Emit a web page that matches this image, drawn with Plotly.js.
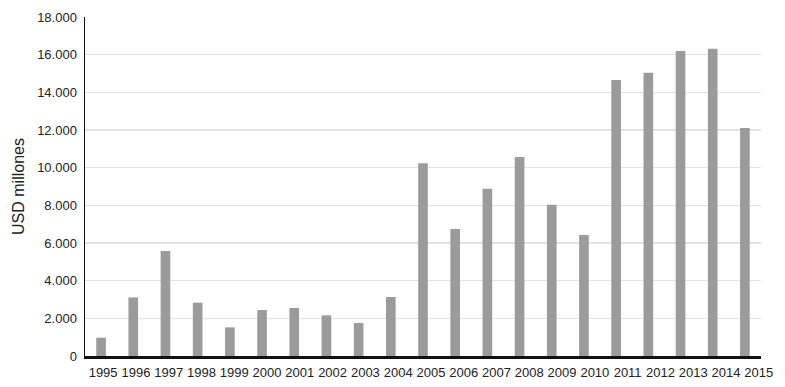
<!DOCTYPE html>
<html>
<head>
<meta charset="utf-8">
<script src="https://cdn.plot.ly/plotly-3.0.1.min.js"></script>
<style>html,body{margin:0;padding:0;background:#fff;}#chart{width:785px;height:387px;}</style>
</head>
<body>
<div id="chart"></div>
<script>
var years = ["1995","1996","1997","1998","1999","2000","2001","2002","2003","2004","2005","2006","2007","2008","2009","2010","2011","2012","2013","2014","2015"];
var values = [970, 3110, 5570, 2830, 1520, 2440, 2550, 2160, 1750, 3130, 10230, 6750, 8880, 10570, 8030, 6430, 14650, 15040, 16200, 16320, 12110];
var yTickVals = [0, 2000, 4000, 6000, 8000, 10000, 12000, 14000, 16000, 18000];
var yTickText = ["0", "2.000", "4.000", "6.000", "8.000", "10.000", "12.000", "14.000", "16.000", "18.000"];
var yTitle = "USD millones";

var font = "Liberation Sans, Arial, sans-serif";
// label positions are spread slightly wider than bar spacing in the reference
var labelPos = years.map(function(_, i){ return 0.0625 + i * 1.0184; });

var trace = {
  type: "bar",
  x: years.map(function(_, i){ return i; }),
  y: values,
  marker: {color: "#9b9b9b"},
  width: 0.3,
  hoverinfo: "skip"
};
var labelTrace = {
  type: "scatter", mode: "markers",
  x: [labelPos[0]], y: [0], xaxis: "x2",
  marker: {opacity: 0}, hoverinfo: "skip", showlegend: false
};

var layout = {
  width: 785, height: 387,
  margin: {l: 85, r: 24, t: 17, b: 31},
  paper_bgcolor: "#fff", plot_bgcolor: "#fff",
  showlegend: false,
  bargap: 0.7,
  font: {family: font, size: 13, color: "#222"},
  xaxis: {
    range: [-0.5, 20.5],
    showticklabels: false,
    showgrid: false, zeroline: false,
    showline: false, ticks: "", fixedrange: true
  },
  xaxis2: {
    overlaying: "x", anchor: "y",
    range: [-0.5, 20.5],
    tickmode: "array", tickvals: labelPos, ticktext: years,
    showgrid: false, zeroline: false, showline: true, linecolor: "#111", linewidth: 2.5,
    ticks: "outside", ticklen: 3, tickcolor: "rgba(0,0,0,0)",
    tickfont: {family: font, size: 13, color: "#222"},
    fixedrange: true
  },
  yaxis: {
    range: [0, 18000],
    tickmode: "array", tickvals: yTickVals, ticktext: yTickText,
    showgrid: true, gridcolor: "#e2e2e2", gridwidth: 1.5,
    zeroline: false,
    showline: true, linecolor: "#111", linewidth: 1.5,
    ticks: "outside", ticklen: 4, tickcolor: "rgba(0,0,0,0)",
    tickfont: {family: font, size: 13, color: "#222"},
    title: {text: yTitle, font: {family: font, size: 16, color: "#222"}, standoff: 8},
    fixedrange: true
  }
};

Plotly.newPlot("chart", [trace, labelTrace], layout, {displayModeBar: false, staticPlot: true});
</script>
</body>
</html>
